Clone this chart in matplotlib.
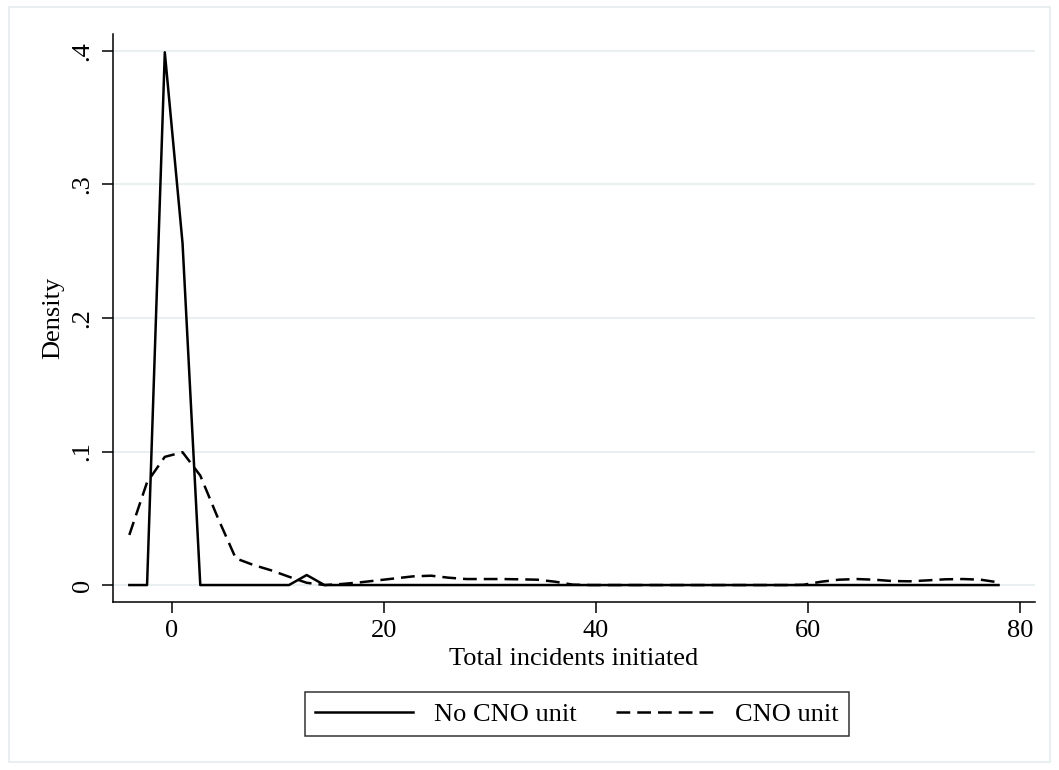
import matplotlib
matplotlib.use("Agg")
import matplotlib.pyplot as plt
from matplotlib.patches import Rectangle

# Kernel density estimates evaluated on a 50-point grid from -4 to 78
grid_start = -4.0
grid_end = 78.0
n_points = 50
grid_step = (grid_end - grid_start) / (n_points - 1)
incidents = [grid_start + i * grid_step for i in range(n_points)]

# No CNO unit (solid)
density_no_cno = [0.0, 0.0, 0.399, 0.256, 0.0, 0.0, 0.0, 0.0, 0.0, 0.0,
                  0.0075, 0.0, 0.0, 0.0, 0.0, 0.0, 0.0, 0.0, 0.0, 0.0,
                  0.0, 0.0, 0.0, 0.0, 0.0, 0.0, 0.0, 0.0, 0.0, 0.0,
                  0.0, 0.0, 0.0, 0.0, 0.0, 0.0, 0.0, 0.0, 0.0, 0.0,
                  0.0, 0.0, 0.0, 0.0, 0.0, 0.0, 0.0, 0.0, 0.0, 0.0]

# CNO unit (dashed)
density_cno = [0.0375, 0.077, 0.096, 0.0995, 0.082, 0.050, 0.020, 0.015, 0.011, 0.0062,
               0.0017, 0.0, 0.0008, 0.002, 0.0035, 0.005, 0.0065, 0.007, 0.0055, 0.0045,
               0.0045, 0.0045, 0.0043, 0.004, 0.0025, 0.0003, 0.0, 0.0, 0.0, 0.0,
               0.0, 0.0, 0.0, 0.0, 0.0, 0.0, 0.0, 0.0, 0.0002, 0.0025,
               0.004, 0.0045, 0.004, 0.003, 0.0028, 0.0035, 0.0043, 0.0045, 0.004, 0.002]

x_ticks = [0, 20, 40, 60, 80]
y_ticks = [0, 0.1, 0.2, 0.3, 0.4]
y_tick_labels = ["0", ".1", ".2", ".3", ".4"]

plt.rcParams["font.family"] = ["Liberation Serif", "DejaVu Serif"]

fig = plt.figure(figsize=(10.59, 7.70), dpi=100)
fig.patch.set_facecolor("white")

# light outer frame like the Stata graph region
fig.patches.append(Rectangle((9 / 1059, 1 - 762 / 770), (1050 - 9) / 1059, (762 - 7) / 770,
                             transform=fig.transFigure, fill=False,
                             edgecolor="#e4ecef", linewidth=1.2))

ax = fig.add_axes([113 / 1059, 1 - 602 / 770, (1035 - 113) / 1059, (602 - 34) / 770])

for yv in y_ticks:
    ax.axhline(yv, color="#e8f0f2", linewidth=1.5, zorder=0)

ax.plot(incidents, density_no_cno, color="black", linewidth=1.8, label="No CNO unit")
ax.plot(incidents, density_cno, color="black", linewidth=1.8, linestyle=(0, (5.5, 2.8)),
        label="CNO unit")

ax.set_xlim(-5.54, 81.44)
ax.set_ylim(-0.0127, 0.4127)

ax.set_xticks(x_ticks)
ax.set_yticks(y_ticks)
ax.set_yticklabels(y_tick_labels, rotation=90, va="center")

ax.spines["top"].set_visible(False)
ax.spines["right"].set_visible(False)
ax.spines["left"].set_linewidth(1.1)
ax.spines["bottom"].set_linewidth(1.1)
ax.tick_params(axis="both", direction="out", length=8, width=1.1, labelsize=19, colors="black")
ax.tick_params(axis="x", pad=5)
ax.tick_params(axis="y", pad=6)

ax.set_xlabel("Total incidents initiated", fontsize=19, labelpad=4)
ax.set_ylabel("Density", fontsize=19, labelpad=5)

leg = fig.legend(loc="center", bbox_to_anchor=(577 / 1059, 1 - 714 / 770), ncol=2,
                 fontsize=19, handlelength=3.7, handletextpad=0.8, columnspacing=1.5,
                 frameon=True, fancybox=False, edgecolor="black", borderpad=0.4)
leg.get_frame().set_linewidth(1.1)

fig.savefig("out.png", dpi=100)
plt.close(fig)
